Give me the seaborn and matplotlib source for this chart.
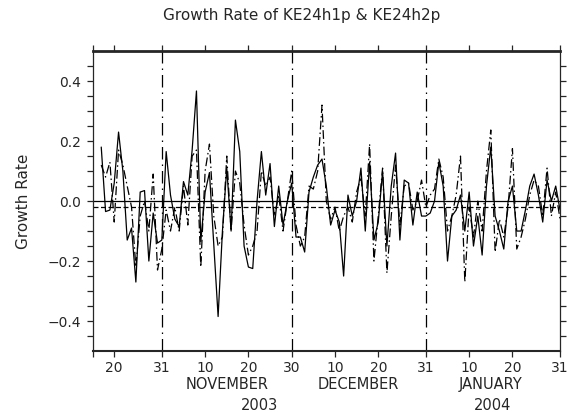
import matplotlib
matplotlib.use("Agg")
import matplotlib.pyplot as plt
import matplotlib.transforms as mtransforms
import numpy as np
import pandas as pd
import seaborn as sns

# daily growth rates, 2003-10-17 .. 2004-01-31
dates = pd.date_range("2003-10-17", "2004-01-31", freq="D")

ke24h1p = [
    # Oct 17-31
    0.18, -0.035, -0.03, 0.06, 0.23, 0.10, -0.13, -0.09, -0.27, 0.03, 0.035, -0.20, -0.04, -0.14, -0.13,
    # Nov
    0.165, 0.02, -0.06, -0.085, 0.065, 0.02, 0.17, 0.367, -0.135, 0.03,
    0.095, -0.145, -0.385, -0.10, 0.11, -0.10, 0.27, 0.165, -0.15, -0.22,
    -0.225, 0.0, 0.165, 0.02, 0.125, -0.085, 0.05, -0.08, 0.0, 0.06,
    # Dec
    -0.12, -0.12, -0.17, 0.03, 0.08, 0.12, 0.14, 0.05, -0.08, -0.03,
    -0.07, -0.25, 0.02, -0.05, 0.0, 0.11, -0.10, 0.13, -0.13, -0.07,
    0.10, -0.15, 0.05, 0.16, -0.13, 0.07, 0.06, -0.08, 0.03, -0.05, -0.05,
    # Jan
    -0.04, 0.0, 0.13, 0.05, -0.20, -0.05, -0.03, 0.02, -0.10, 0.03,
    -0.15, -0.05, -0.18, 0.05, 0.18, -0.05, -0.10, -0.16, 0.0, 0.05,
    -0.10, -0.10, -0.03, 0.05, 0.09, 0.02, -0.07, 0.07, 0.0, 0.05, -0.03,
]

ke24h2p = [
    # Oct 17-31
    0.12, 0.08, 0.13, -0.07, 0.17, 0.12, 0.05, -0.02, -0.22, -0.05, 0.0, -0.10, 0.09, -0.23, -0.16,
    # Nov
    -0.03, -0.10, -0.02, -0.10, 0.05, -0.08, 0.15, 0.17, -0.22, 0.10,
    0.19, -0.05, -0.15, -0.12, 0.15, -0.10, 0.10, 0.06, -0.08, -0.18,
    -0.15, -0.10, 0.10, 0.05, 0.08, -0.05, 0.02, -0.10, 0.0, 0.10,
    # Dec
    -0.08, -0.15, -0.12, 0.05, 0.04, 0.10, 0.32, 0.0, -0.06, -0.02,
    -0.10, -0.05, -0.02, -0.07, 0.03, 0.08, -0.05, 0.19, -0.20, -0.05,
    0.11, -0.24, -0.05, 0.12, -0.08, 0.05, 0.06, -0.03, 0.0, 0.07, -0.02,
    # Jan
    0.02, 0.04, 0.14, 0.08, -0.10, -0.05, 0.02, 0.15, -0.27, -0.02,
    -0.12, 0.0, -0.10, 0.10, 0.237, -0.17, -0.06, -0.12, -0.02, 0.175,
    -0.16, -0.12, -0.06, 0.02, 0.07, 0.05, -0.05, 0.11, -0.05, 0.03, -0.06,
]

mean_level = -0.02

tick_days = ["2003-10-20", "2003-10-31", "2003-11-10", "2003-11-20", "2003-11-30",
             "2003-12-10", "2003-12-20", "2003-12-31", "2004-01-10", "2004-01-20", "2004-01-31"]
tick_labels = ["20", "31", "10", "20", "30", "10", "20", "31", "10", "20", "31"]
month_ends = ["2003-10-31", "2003-11-30", "2003-12-31"]
month_names = ["NOVEMBER", "DECEMBER", "JANUARY"]
month_mid = ["2003-11-15", "2003-12-15 12:00", "2004-01-15"]
years = ["2003", "2004"]
year_mid = ["2003-11-22 12:00", "2004-01-15 12:00"]

df = pd.DataFrame({"date": dates, "h1": ke24h1p, "h2": ke24h2p})

sns.set_style("ticks")
plt.rcParams['font.family'] = ['DejaVu Sans']

fig = plt.figure(figsize=(5.68, 4.12), dpi=100)
ax = fig.add_axes([0.163, 0.148, 0.823, 0.728])

sns.lineplot(data=df, x="date", y="h1", ax=ax, color="black", lw=0.9)
sns.lineplot(data=df, x="date", y="h2", ax=ax, color="black", lw=0.9,
             linestyle=(0, (7, 2.5, 1.2, 2.5)))

ax.axhline(0, color="black", lw=0.9)
ax.axhline(mean_level, color="black", lw=0.9, linestyle=(0, (4, 2)))
for d in month_ends:
    ax.axvline(pd.Timestamp(d), color="black", lw=0.9, linestyle=(0, (10, 4, 1.2, 4)))

ax.set_xlim(pd.Timestamp("2003-10-15"), pd.Timestamp("2004-01-31"))
ax.set_ylim(-0.5, 0.5)

ax.set_xticks([pd.Timestamp("2003-10-15")] + [pd.Timestamp(t) for t in tick_days])
ax.set_xticklabels([""] + tick_labels, fontsize=10)
ax.set_yticks([-0.4, -0.2, 0.0, 0.2, 0.4])
ax.set_yticklabels(["\u22120.4", "\u22120.2", "0.0", "0.2", "0.4"], fontsize=10)
ax.set_yticks(np.arange(-0.45, 0.5, 0.05), minor=True)
ax.tick_params(axis="x", which="both", top=True, bottom=True, direction="out", length=4, width=0.9, pad=3)
ax.tick_params(axis="y", which="both", left=True, right=True, direction="out", length=4, width=0.9, pad=4)

for side in ["left", "right"]:
    ax.spines[side].set_linewidth(0.9)
ax.spines["top"].set_linewidth(2)
ax.spines["bottom"].set_linewidth(1.5)

ax.set_xlabel("")
ax.set_ylabel("Growth Rate", fontsize=11, labelpad=12)

trans = mtransforms.blended_transform_factory(ax.transData, ax.transAxes)
for name, mid in zip(month_names, month_mid):
    ax.text(pd.Timestamp(mid), -0.113, name, transform=trans, ha="center", va="center", fontsize=10.5)
for yr, mid in zip(years, year_mid):
    ax.text(pd.Timestamp(mid), -0.18, yr, transform=trans, ha="center", va="center", fontsize=10.5)

fig.text(0.532, 0.962, "Growth Rate of KE24h1p & KE24h2p", ha="center", va="center", fontsize=11)

fig.savefig("out.png", dpi=100)
